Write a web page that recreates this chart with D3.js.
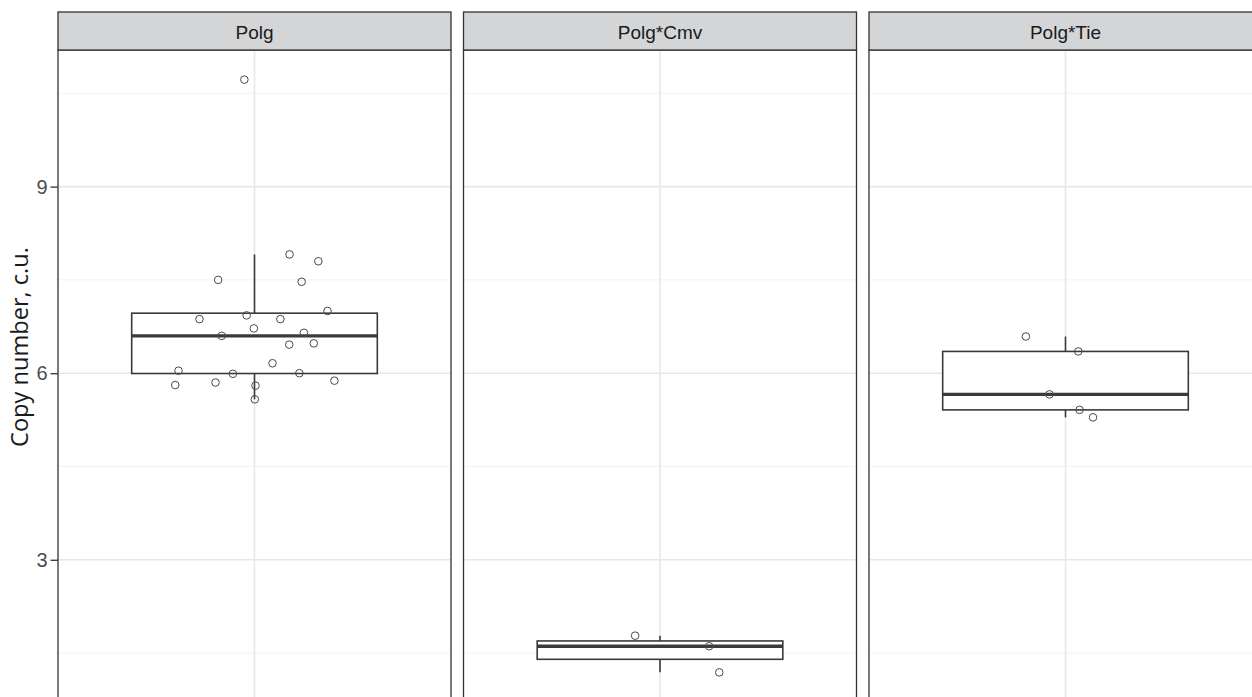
<!DOCTYPE html>
<html>
<head>
<meta charset="utf-8">
<script src="https://cdn.jsdelivr.net/npm/d3@7"></script>
<style>
  body { margin: 0; background: #fff; }
  svg { display: block; }
</style>
</head>
<body>
<div id="chart"></div>
<script>
// facet names
const groups = ["Polg", "Polg*Cmv", "Polg*Tie"];

// copy number values, one list per facet
const polgValues = [7.91, 7.80, 7.50, 7.47, 7.00, 6.87, 6.93, 6.87, 6.72, 6.60, 6.65, 6.46,
    6.48, 6.16, 6.04, 5.99, 6.00, 5.81, 5.85, 5.80, 5.88, 5.58, 10.72];
const cmvValues = [1.78, 1.61, 1.19];
const tieValues = [6.59, 6.35, 5.66, 5.41, 5.29];

// horizontal jitter of each point, in category units
const polgJitter = [0.107, 0.195, -0.111, 0.144, 0.223, -0.168, -0.024, 0.079, -0.002, -0.100,
    0.151, 0.106, 0.181, 0.055, -0.232, -0.066, 0.137, -0.242, -0.119, 0.003, 0.244, 0.001, -0.031];
const cmvJitter = [-0.076, 0.150, 0.181];
const tieJitter = [-0.121, 0.039, -0.049, 0.043, 0.084];

const yTicks = [3, 6, 9];
const yTitle = "Copy number, c.u.";

const W = 1252, H = 697;
const margin = { top: 12, left: 58 };
const stripH = 38;
const panelW = 393, panelGap = 12.5;
const panelTop = margin.top + stripH;
const panelBottom = 702;

const svg = d3.select("#chart").append("svg")
    .attr("width", W)
    .attr("height", H);

const allValues = polgValues.concat(cmvValues, tieValues);
const ext = d3.extent(allValues);
const pad = (ext[1] - ext[0]) * 0.05;

const y = d3.scaleLinear()
    .domain([ext[0] - pad, ext[1] + pad])
    .range([panelBottom, panelTop]);

const minorTicks = [1.5, 4.5, 7.5, 10.5];

const facets = [
    { name: groups[0], values: polgValues, jitter: polgJitter },
    { name: groups[1], values: cmvValues, jitter: cmvJitter },
    { name: groups[2], values: tieValues, jitter: tieJitter }
];

function boxStats(vals) {
    let s = vals.slice().sort(d3.ascending);
    let q1 = d3.quantile(s, 0.25),
        med = d3.quantile(s, 0.5),
        q3 = d3.quantile(s, 0.75);
    let iqr = q3 - q1;
    let lo = d3.min(s.filter(v => v >= q1 - 1.5 * iqr));
    let hi = d3.max(s.filter(v => v <= q3 + 1.5 * iqr));
    return { q1, med, q3, lo, hi };
}

const clip = svg.append("defs");

facets.forEach((f, i) => {
    let left = margin.left + i * (panelW + panelGap);
    let x = d3.scaleLinear().domain([0.4, 1.6]).range([left, left + panelW]);

    clip.append("clipPath").attr("id", "clip" + i)
        .append("rect")
        .attr("x", left).attr("y", panelTop)
        .attr("width", panelW).attr("height", panelBottom - panelTop);

    let g = svg.append("g").attr("clip-path", "url(#clip" + i + ")");

    // grid
    g.selectAll(".minor").data(minorTicks).enter().append("line")
        .attr("x1", left).attr("x2", left + panelW)
        .attr("y1", d => y(d)).attr("y2", d => y(d))
        .style("stroke", "#f2f2f2").style("stroke-width", 1);
    g.selectAll(".major").data(yTicks).enter().append("line")
        .attr("x1", left).attr("x2", left + panelW)
        .attr("y1", d => y(d)).attr("y2", d => y(d))
        .style("stroke", "#e8e8e8").style("stroke-width", 1.6);
    g.append("line")
        .attr("x1", x(1)).attr("x2", x(1))
        .attr("y1", panelTop).attr("y2", panelBottom)
        .style("stroke", "#e8e8e8").style("stroke-width", 1.6);

    // boxplot
    let st = boxStats(f.values);
    let bw = 0.375;
    let boxCol = "#3a3a3a";
    g.append("line")
        .attr("x1", x(1)).attr("x2", x(1))
        .attr("y1", y(st.q3)).attr("y2", y(st.hi))
        .style("stroke", boxCol).style("stroke-width", 1.6);
    g.append("line")
        .attr("x1", x(1)).attr("x2", x(1))
        .attr("y1", y(st.q1)).attr("y2", y(st.lo))
        .style("stroke", boxCol).style("stroke-width", 1.6);
    g.append("rect")
        .attr("x", x(1 - bw)).attr("y", y(st.q3))
        .attr("width", x(1 + bw) - x(1 - bw))
        .attr("height", y(st.q1) - y(st.q3))
        .style("fill", "white").style("stroke", boxCol).style("stroke-width", 1.6);
    g.append("line")
        .attr("x1", x(1 - bw)).attr("x2", x(1 + bw))
        .attr("y1", y(st.med)).attr("y2", y(st.med))
        .style("stroke", boxCol).style("stroke-width", 3.4);

    // jittered points
    g.selectAll(".pt").data(f.values).enter().append("circle")
        .attr("cx", (d, j) => x(1 + f.jitter[j]))
        .attr("cy", d => y(d))
        .attr("r", 3.8)
        .style("fill", "none")
        .style("stroke", "#4a4a4a")
        .style("stroke-width", 1);

    // border
    svg.append("rect")
        .attr("x", left).attr("y", panelTop)
        .attr("width", panelW).attr("height", panelBottom - panelTop)
        .style("fill", "none").style("stroke", "#333").style("stroke-width", 1.3);

    // strip
    svg.append("rect")
        .attr("x", left).attr("y", margin.top)
        .attr("width", panelW).attr("height", stripH)
        .style("fill", "#d4d5d7").style("stroke", "#333").style("stroke-width", 1.3);
    svg.append("text")
        .attr("x", left + panelW / 2)
        .attr("y", margin.top + stripH / 2 + 1)
        .attr("dy", "0.35em")
        .style("text-anchor", "middle")
        .style("font-family", "Liberation Sans, Arial, sans-serif")
        .style("font-size", "19px")
        .style("fill", "#1a1a1a")
        .text(f.name);
});

// y axis
const yAxis = d3.axisLeft(y).tickValues(yTicks).tickSize(7.5).tickPadding(3);
const ax = svg.append("g")
    .attr("transform", "translate(" + margin.left + ",0)")
    .call(yAxis);
ax.select(".domain").remove();
ax.selectAll(".tick line").style("stroke", "#333").style("stroke-width", 1.3);
ax.selectAll(".tick text")
    .style("font-family", "Liberation Sans, Arial, sans-serif")
    .style("font-size", "20px")
    .style("fill", "#4d4d4d");

const title = svg.append("text")
    .attr("transform", "translate(28,347) rotate(-90)")
    .style("text-anchor", "middle")
    .style("font-family", "Open Sans, Noto Sans, sans-serif")
    .style("font-size", "20px")
    .style("fill", "#1a1a1a")
    .text(yTitle);
// fit the title to the length it has in the original
let len = title.node().getComputedTextLength();
title.style("font-size", (20 * 200 / len).toFixed(2) + "px");
</script>
</body>
</html>
